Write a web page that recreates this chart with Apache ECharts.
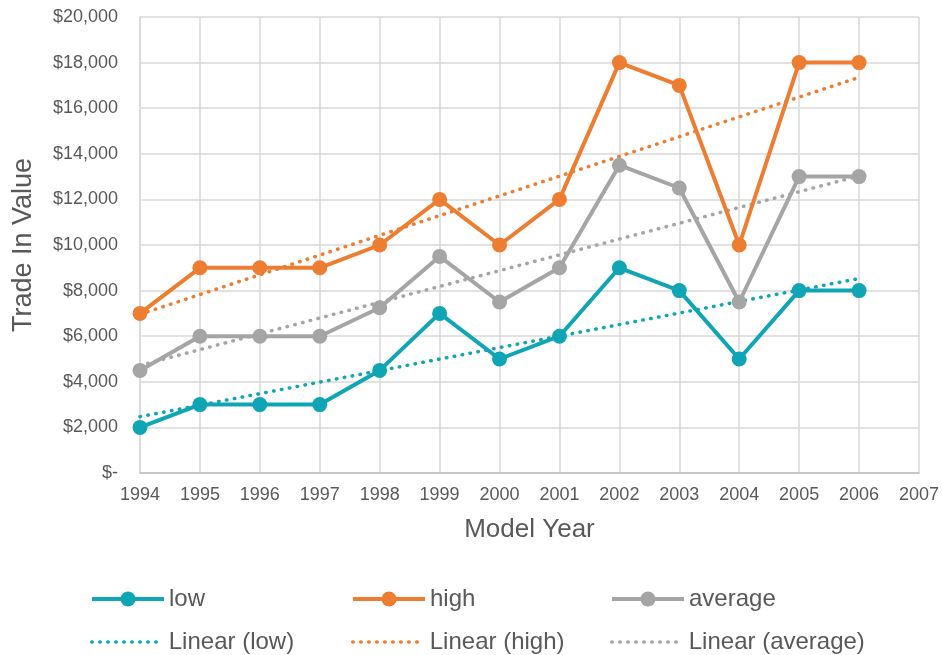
<!DOCTYPE html>
<html>
<head>
<meta charset="utf-8">
<script src="https://cdn.jsdelivr.net/npm/echarts@6/dist/echarts.min.js"></script>
<style>html,body{margin:0;padding:0;background:#fff}#c{width:942px;height:655px}</style>
</head>
<body>
<div id="c"></div>
<script>
const years = [1994,1995,1996,1997,1998,1999,2000,2001,2002,2003,2004,2005,2006];
const low = [2000,3000,3000,3000,4500,7000,5000,6000,9000,8000,5000,8000,8000];
const high = [7000,9000,9000,9000,10000,12000,10000,12000,18000,17000,10000,18000,18000];
const average = [4500,6000,6000,6000,7250,9500,7500,9000,13500,12500,7500,13000,13000];
// trendline endpoints (1994 and 2006)
const trendYears = [1994, 2006];
const trendLow = [2470, 8530];
const trendHigh = [6960, 17350];
const trendAverage = [4720, 13030];

const C_LOW = '#10A5B4', C_HIGH = '#ED7D31', C_AVG = '#A5A5A5';
const FONT = 'Liberation Sans, Arial, sans-serif';
const TXT = '#595959';

const pair = (xs, ys) => xs.map((x, i) => [x, ys[i]]);

function dataSeries(name, vals, color) {
  return {
    name, type: 'line', data: pair(years, vals),
    symbol: 'circle', symbolSize: 15,
    itemStyle: { color },
    lineStyle: { color, width: 4 },
    z: 3
  };
}
function trendSeries(name, vals, color) {
  return {
    name, type: 'line', data: pair(trendYears, vals),
    symbol: 'none',
    itemStyle: { color },
    lineStyle: { color, width: 3.5, type: [0.5, 7.5], cap: 'round' },
    z: 2
  };
}
function legendAt(name, left, top, trend) {
  return {
    data: [name], left, top, padding: 0, itemWidth: 72, itemHeight: 19, itemGap: 0,
    itemStyle: trend ? { opacity: 0 } : {},
    lineStyle: { width: trend ? 3.5 : 4 },
    textStyle: { fontFamily: FONT, fontSize: 24, color: TXT }
  };
}

const chart = echarts.init(document.getElementById('c'), null, { renderer: 'canvas' });
chart.setOption({
  animation: false,
  grid: { left: 140, right: 22, top: 17, bottom: 182, containLabel: false },
  xAxis: {
    type: 'value', min: 1994, max: 2007, interval: 1,
    name: 'Model Year', nameLocation: 'middle', nameGap: 44,
    nameTextStyle: { fontFamily: FONT, fontSize: 26, color: TXT },
    axisLine: { show: true, lineStyle: { color: '#BFBFBF', width: 1.5 } },
    axisTick: { show: false },
    axisLabel: { fontFamily: FONT, fontSize: 18, color: TXT, margin: 13, formatter: v => String(v) },
    splitLine: { show: true, lineStyle: { color: '#D9D9D9', width: 1.5 } }
  },
  yAxis: {
    type: 'value', min: 0, max: 20000, interval: 2000,
    name: 'Trade In Value', nameLocation: 'middle', nameGap: 103,
    nameTextStyle: { fontFamily: FONT, fontSize: 27, color: TXT },
    axisLine: { show: true, lineStyle: { color: '#D9D9D9', width: 1.5 } },
    axisTick: { show: false },
    axisLabel: {
      fontFamily: FONT, fontSize: 18, color: TXT, margin: 22,
      formatter: v => v === 0 ? '$-' : '$' + v.toLocaleString('en-US')
    },
    splitLine: { show: true, lineStyle: { color: '#D9D9D9', width: 1.5 } }
  },
  legend: [
    legendAt('low', 90, 587, false),
    legendAt('high', 351, 587, false),
    legendAt('average', 610, 587, false),
    legendAt('Linear (low)', 90, 630, true),
    legendAt('Linear (high)', 351, 630, true),
    legendAt('Linear (average)', 610, 630, true)
  ],
  series: [
    trendSeries('Linear (low)', trendLow, C_LOW),
    trendSeries('Linear (high)', trendHigh, C_HIGH),
    trendSeries('Linear (average)', trendAverage, C_AVG),
    dataSeries('low', low, C_LOW),
    dataSeries('high', high, C_HIGH),
    dataSeries('average', average, C_AVG)
  ]
});
</script>
</body>
</html>
